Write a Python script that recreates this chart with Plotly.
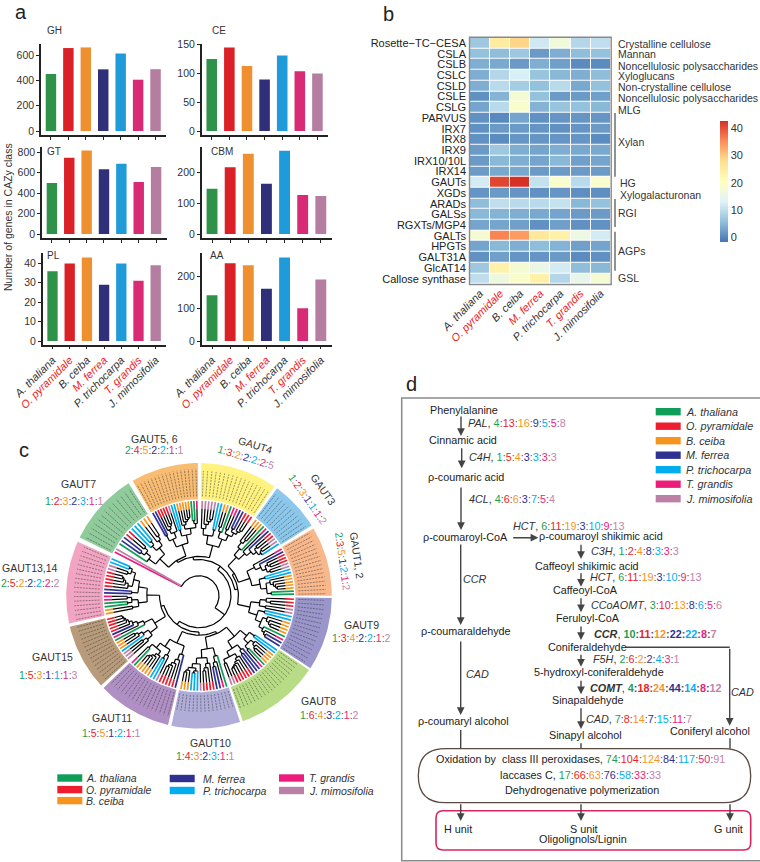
import math
import plotly.graph_objects as go

# ---------- data ----------
species = ["A. thaliana", "O. pyramidale", "B. ceiba", "M. ferrea", "P. trichocarpa", "T. grandis", "J. mimosifolia"]
highlighted = ["O. pyramidale", "M. ferrea", "T. grandis"]
bar_colors = ["#2E9249", "#DA2128", "#EE9030", "#2F3079", "#1F9BD9", "#D82A75", "#B57DA0"]
text_colors = ["#1E9E50", "#ED1C24", "#F7941E", "#2E3192", "#00AEEF", "#EC1C7D", "#BF84AB"]
legend_colors = ["#0F9D58", "#ED1C2E", "#F7941E", "#2E3192", "#00AEEF", "#EC1C7D", "#BC80A6"]

GH = [450, 655, 660, 487, 612, 405, 488]
CE = [124, 144, 112, 89, 130, 103, 99]
GT = [500, 748, 817, 634, 689, 510, 657]
CBM = [148, 218, 262, 164, 272, 127, 124]
PL = [36, 40, 43, 29, 40, 31, 39]
AA = [141, 239, 233, 161, 257, 101, 189]

heat_rows = ["Rosette\u2212TC\u2212CESA", "CSLA", "CSLB", "CSLC", "CSLD", "CSLE", "CSLG", "PARVUS", "IRX7", "IRX8", "IRX9",
             "IRX10/10L", "IRX14", "GAUTs", "XGDs", "ARADs", "GALSs", "RGXTs/MGP4", "GALTs", "HPGTs", "GALT31A",
             "GlcAT14", "Callose synthase"]
heat_values = [
    [7, 25, 29, 11.5, 17, 9, 10],
    [6, 5.5, 7, 2, 4, 5.5, 6],
    [4, 3.5, 2, 4, 2.5, 0.5, 0.5],
    [4, 9, 12.5, 6.5, 5, 4, 5.5],
    [4, 9.5, 7.5, 6, 9.5, 3.5, 6],
    [1, 4.5, 18, 6, 2, 2, 2.5],
    [3, 9.5, 19, 4.5, 6.5, 6, 5],
    [1, 0.3, 3, 1, 1.5, 1.5, 1.5],
    [1, 2, 2, 1.5, 1, 1.5, 2],
    [1, 0.5, 1.5, 1.5, 1.5, 1.5, 0.5],
    [2, 7, 4, 3, 4, 3.5, 3.5],
    [2, 5, 4, 3, 5, 2.5, 3],
    [2, 3.5, 3.5, 2, 2, 2, 2],
    [12, 41, 43, 10.5, 19, 9.5, 19],
    [1.5, 2, 1.5, 1, 1.5, 0.8, 0.8],
    [5.5, 10, 9.5, 9.5, 10.5, 5, 6],
    [5, 4.5, 4, 3.5, 3, 2, 2],
    [3, 3, 2.5, 1, 2.5, 1, 1],
    [18, 36, 34, 26, 24, 16, 12],
    [3, 5, 4, 5.5, 4.5, 2.5, 3],
    [1, 2.5, 1.5, 1.5, 2, 0.5, 1],
    [7, 24, 18, 15.5, 12, 5.5, 5],
    [10, 16.5, 19, 24, 9, 15, 18],
]
heat_scale = ["#4575B4", "#91BFDB", "#E0F3F8", "#FFFFBF", "#FEE090", "#FC8D59", "#D73027"]

gaut_names = ["GAUT7", "GAUT5, 6", "GAUT4", "GAUT3", "GAUT1, 2", "GAUT9", "GAUT8", "GAUT10", "GAUT11", "GAUT15", "GAUT13,14"]
gaut_counts = [
    [1, 2, 3, 2, 3, 1, 1],
    [2, 4, 5, 2, 2, 1, 1],
    [1, 3, 2, 2, 2, 2, 5],
    [1, 2, 3, 1, 1, 1, 2],
    [2, 3, 5, 1, 2, 1, 2],
    [1, 3, 4, 2, 2, 1, 2],
    [1, 6, 4, 3, 2, 1, 2],
    [1, 4, 3, 2, 3, 1, 1],
    [1, 5, 5, 1, 2, 1, 1],
    [1, 5, 3, 1, 1, 1, 3],
    [2, 5, 2, 2, 2, 2, 2],
]

PAL = [4, 13, 16, 9, 5, 5, 8]
C4H = [1, 5, 4, 3, 3, 3, 3]
CL4 = [4, 6, 6, 3, 7, 5, 4]
HCT = [6, 11, 19, 3, 10, 9, 13]
C3H = [1, 2, 4, 8, 3, 3, 3]
CCoAOMT = [3, 10, 13, 8, 6, 5, 6]
CCR = [10, 11, 12, 22, 22, 8, 7]
F5H = [2, 6, 2, 2, 4, 3, 1]
COMT = [4, 18, 24, 44, 14, 8, 12]
CAD = [7, 8, 14, 7, 15, 11, 7]
PRX = [74, 104, 124, 84, 117, 50, 91]
LAC = [17, 66, 63, 76, 58, 33, 33]

# ---------- helpers ----------
W, H = 760, 862
FONT = "Liberation Sans"
INK = "#2b2b2b"
fig = go.Figure()
annotations, shapes = [], []


def text(x, y, s, size=11, anchor="center", angle=0, color=INK):
    annotations.append(dict(x=x, y=y, xref="x", yref="y", text=s, showarrow=False, xanchor=anchor, yanchor="middle",
                            textangle=angle, font=dict(size=size, color=color, family=FONT), borderpad=0, borderwidth=0))


def ratio(vals, bold=False):
    parts = [f'<span style="color:{c}">{v}</span>' for v, c in zip(vals, text_colors)]
    s = '<span style="color:#555">:</span>'.join(parts)
    return f"<b>{s}</b>" if bold else s


def line(x0, y0, x1, y1, color="#444", width=1.4):
    shapes.append(dict(type="line", xref="x", yref="y", x0=x0, y0=y0, x1=x1, y1=y1, line=dict(color=color, width=width)))


def arrow(x0, y0, x1, y1):
    annotations.append(dict(x=x1, y=y1, ax=x0, ay=y0, xref="x", yref="y", axref="x", ayref="y", text="", showarrow=True,
                            arrowhead=2, arrowsize=1.1, arrowwidth=1.4, arrowcolor="#444"))


def rrect(x0, y0, x1, y1, r, color, width):
    path = (f"M{x0+r},{y0} L{x1-r},{y0} Q{x1},{y0} {x1},{y0+r} L{x1},{y1-r} Q{x1},{y1} {x1-r},{y1} "
            f"L{x0+r},{y1} Q{x0},{y1} {x0},{y1-r} L{x0},{y0+r} Q{x0},{y0} {x0+r},{y0} Z")
    shapes.append(dict(type="path", xref="x", yref="y", path=path, line=dict(color=color, width=width)))


def species_label(name):
    if name in highlighted:
        return f'<i><span style="color:#ED1C24">{name}</span></i>'
    return f"<i>{name}</i>"


layout_axes = {}
layout_axes["xaxis"] = dict(domain=[0, 1], range=[0, W], visible=False, fixedrange=True, automargin=False)
layout_axes["yaxis"] = dict(domain=[0, 1], range=[H, 0], visible=False, fixedrange=True, automargin=False)

# ---------- panel a ----------
panels = [
    ("GH", GH, 41, 166, 44, 135, [-31.6, 687], [0, 200, 400, 600], False, 54, 30),
    ("CE", CE, 201.7, 328, 44, 135, [-6.9, 150], [0, 50, 100, 150], False, 219, 30),
    ("GT", GT, 42, 166.5, 146.7, 238.3, [-42, 855], [0, 200, 400, 600, 800], False, 54, 151),
    ("CBM", CBM, 201.7, 331.7, 146.7, 238.3, [-14, 285], [0, 100, 200], False, 222, 151),
    ("PL", PL, 42.7, 166, 253.3, 344.7, [-1.9, 45.2], [0, 10, 20, 30, 40], True, 53, 255),
    ("AA", AA, 201.7, 331.7, 253.3, 344.7, [-11.4, 270], [0, 100, 200], True, 217, 255),
]
axis_n = 2
for name, vals, left, right, top, bottom, yr, yt, labelled, tx, ty in panels:
    xa, ya = f"xaxis{axis_n}", f"yaxis{axis_n}"
    layout_axes[xa] = dict(domain=[left / W, right / W], range=[-0.57, 6.6], anchor=f"y{axis_n}", tickmode="array",
                           tickvals=list(range(7)), ticktext=[species_label(s) for s in species], showticklabels=labelled,
                           tickangle=-45, ticks="outside", ticklen=3, tickwidth=1, tickcolor="#222", showline=True,
                           linecolor="#222", linewidth=1.5, showgrid=False, zeroline=False, fixedrange=True, automargin=False,
                           tickfont=dict(size=11, color="#333", family=FONT))
    layout_axes[ya] = dict(domain=[1 - bottom / H, 1 - top / H], range=yr, anchor=f"x{axis_n}", tickmode="array", tickvals=yt,
                           ticks="outside", ticklen=3, tickwidth=1, tickcolor="#222", showline=True, linecolor="#222",
                           linewidth=1.5, showgrid=False, zeroline=False, fixedrange=True, automargin=False,
                           tickfont=dict(size=10.5, color="#333", family=FONT))
    fig.add_trace(go.Bar(x=list(range(7)), y=vals, marker=dict(color=bar_colors, line_width=0), width=0.6,
                         xaxis=f"x{axis_n}", yaxis=f"y{axis_n}", showlegend=False))
    text(tx, ty, name, size=10, anchor="center", color="#333")
    axis_n += 1
text(8, 217, "Number of genes in CAZy class", size=10.5, angle=-90, color="#333")
text(21, 12, "a", size=20, color="#222")
text(388, 14, "b", size=20, color="#222")
text(24, 450, "c", size=20, color="#222")
text(411, 384, "d", size=20, color="#222")

# ---------- panel b ----------
xa, ya = f"xaxis{axis_n}", f"yaxis{axis_n}"
hleft, hright, htop, hbottom = 470, 610.7, 37.7, 284
layout_axes[xa] = dict(domain=[hleft / W, hright / W], range=[-0.5, 6.5], anchor=f"y{axis_n}", tickmode="array",
                       tickvals=list(range(7)), ticktext=[species_label(s) for s in species], tickangle=-45, ticks="",
                       showgrid=False, zeroline=False, showline=False, fixedrange=True, automargin=False,
                       tickfont=dict(size=11, color="#333", family=FONT))
layout_axes[ya] = dict(domain=[1 - hbottom / H, 1 - htop / H], range=[22.5, -0.5], anchor=f"x{axis_n}", tickmode="array",
                       tickvals=list(range(23)), ticktext=heat_rows, ticks="", showgrid=False, zeroline=False, showline=False,
                       fixedrange=True, automargin=False, ticklabelstandoff=3, tickfont=dict(size=11, color="#222", family=FONT))
fig.add_trace(go.Heatmap(z=heat_values, x=list(range(7)), y=list(range(23)), zmin=-1.7, zmax=42.8, xgap=1, ygap=1,
                         colorscale=[[i / 6, c] for i, c in enumerate(heat_scale)], xaxis=f"x{axis_n}", yaxis=f"y{axis_n}",
                         colorbar=dict(x=720 / W, xanchor="left", xpad=0, ypad=0, y=1 - 181.2 / H, yanchor="middle",
                                       lenmode="pixels", len=121, thicknessmode="pixels", thickness=8, outlinewidth=0,
                                       tickvals=[0, 10, 20, 30, 40], ticks="", tickfont=dict(size=11, color="#333", family=FONT))))
shapes.append(dict(type="rect", xref="x", yref="y", x0=hleft - 0.5, y0=htop - 0.5, x1=hright + 0.5, y1=hbottom + 0.5,
                   line=dict(color="#8a8a8a", width=1.4)))
for y, s, x in [(44, "Crystalline cellulose", 618), (54, "Mannan", 618), (66, "Noncellulosic polysaccharides", 618),
                (76, "Xyloglucans", 618), (87, "Non-crystalline cellulose", 618), (98, "Noncellulosic polysaccharides", 618),
                (110, "MLG", 618), (142, "Xylan", 618), (182.7, "HG", 620), (194.5, "Xylogalacturonan", 619.5),
                (213, "RGI", 618), (251, "AGPs", 618), (278, "GSL", 618)]:
    text(x, y, s, size=10.5, anchor="left", color="#333")
for y0, y1 in [(113, 176.7), (199, 227), (231.7, 270.7)]:
    line(615, y0, 615, y1, color="#777", width=1.6)

# ---------- panel c ----------
CX, CY = 199, 595.8
sector_angles = [(296, 328), (330, 359.5), (361, 394.6), (396, 418), (419.5, 450), (451, 483), (484, 520.7),
                 (522, 552), (553.5, 586), (587.5, 616.5), (618, 654)]
sector_colors = ["#8FCB9B", "#F8BC72", "#FFF27F", "#8CC8EB", "#F9B88C", "#9A96CB", "#B7DC85", "#B0ADD8", "#B08FC4",
                 "#B79B7B", "#F2A5C2"]
text_reach = [127, 127, 125, 127, 127, 125, 120, 116, 124, 126, 125]
R_BAND0, R_BAND1, R_TIP, R_NODE = 96.5, 132.8, 95, 82
LONG_BRANCH = (0, 3, 4)
TIP_LEN = 8


def polar(r, a):
    t = math.radians(a)
    return CX + r * math.sin(t), CY - r * math.cos(t)


for (a0, a1), col in zip(sector_angles, sector_colors):
    n = int(a1 - a0) + 2
    ang = [a0 + (a1 - a0) * i / (n - 1) for i in range(n)]
    pts = [polar(R_BAND1, a) for a in ang] + [polar(R_BAND0, a) for a in reversed(ang)]
    fig.add_trace(go.Scatter(x=[p[0] for p in pts] + [pts[0][0]], y=[p[1] for p in pts] + [pts[0][1]], fill="toself",
                             fillcolor=col, mode="lines", line=dict(width=0), showlegend=False, hoverinfo="skip"))

black_x, black_y = [], []
leaf_x = [[] for _ in species]
leaf_y = [[] for _ in species]
micro_x, micro_y = [], []


def add(xs, ys, r0, a0, r1, a1):
    if a0 == a1:
        p, q = polar(r0, a0), polar(r1, a1)
        xs += [p[0], q[0], None]
        ys += [p[1], q[1], None]
    else:
        n = max(2, int(abs(a1 - a0) / 3) + 2)
        for i in range(n):
            p = polar(r0, a0 + (a1 - a0) * i / (n - 1))
            xs.append(p[0])
            ys.append(p[1])
        xs.append(None)
        ys.append(None)


def subtree(items, r_parent, r_limit):
    """items: (species index, angle) leaves; draws the clade and returns its stem angle."""
    if len(items) == 1:
        sp, a = items[0]
        r_col = r_parent if sp in LONG_BRANCH else max(r_parent, R_TIP - TIP_LEN)
        if r_col > r_parent:
            add(black_x, black_y, r_parent, a, r_col, a)
        add(leaf_x[sp], leaf_y[sp], r_col, a, R_TIP, a)
        return a
    r = r_parent + (r_limit - r_parent) * 0.3
    k = 1
    for i in range(1, len(items)):
        if items[i][0] != items[0][0]:
            k = i
            break
    # balance the split at a species boundary where the clade is large
    if len(items) >= 9:
        bounds = [i for i in range(1, len(items)) if items[i][0] != items[i - 1][0]]
        if bounds:
            k = min(bounds, key=lambda b: abs(b - len(items) * 0.4))
    a0 = subtree(items[:k], r, r_limit)
    a1 = subtree(items[k:], r, r_limit)
    add(black_x, black_y, r, a0, r, a1)
    mid = (a0 + a1) / 2
    add(black_x, black_y, r_parent, mid, r, mid)
    return mid


def backbone(groups, r_parent):
    if len(groups) == 1:
        return subtree(groups[0], r_parent, R_NODE)
    r = r_parent + (48 - r_parent) * 0.27
    k = (len(groups) + 1) // 2
    a0 = backbone(groups[:k], r)
    a1 = backbone(groups[k:], r)
    add(black_x, black_y, r, a0, r, a1)
    mid = (a0 + a1) / 2
    add(black_x, black_y, r_parent, mid, r, mid)
    return mid


clade_leaves = []
for idx, ((a0, a1), counts) in enumerate(zip(sector_angles, gaut_counts)):
    order = [(idx * 3 + j * 5) % 7 for j in range(7)]
    seq = [sp for sp in order for _ in range(counts[sp])]
    n = len(seq)
    step = (a1 - a0) / n
    clade_leaves.append([(sp, a0 + step * (i + 0.5)) for i, sp in enumerate(seq)])
    for i in range(n):
        a = a0 + step * (i + 0.5)
        add(micro_x, micro_y, R_BAND0 + 3, a, text_reach[idx], a)

# the T. grandis and J. mimosifolia tips beside GAUT7 branch directly from the root
first = clade_leaves[0]
rest_first = [lf for lf in first if lf[0] not in (5, 6)]
outgroup = [(5, sector_angles[0][0] + 1.5), (6, sector_angles[0][0] + 3.5)]
span_a0 = sector_angles[0][0] + 6
rest_first = [(lf[0], span_a0 + (sector_angles[0][1] - span_a0) * (i + 0.5) / len(rest_first)) for i, lf in enumerate(rest_first)]
groups = [rest_first] + clade_leaves[1:]
R_ROOT = 20
a_main = backbone(groups, R_ROOT + 6)
for sp, a in outgroup:
    add(leaf_x[sp], leaf_y[sp], R_ROOT, a, R_TIP, a)
add(black_x, black_y, R_ROOT, outgroup[0][1], R_ROOT, a_main)
add(black_x, black_y, R_ROOT, a_main, R_ROOT + 6, a_main)

fig.add_trace(go.Scatter(x=micro_x, y=micro_y, mode="lines", line=dict(color="#333", width=0.7, dash="2px,1px"), opacity=0.7,
                         showlegend=False, hoverinfo="skip"))
for sp in range(7):
    fig.add_trace(go.Scatter(x=leaf_x[sp], y=leaf_y[sp], mode="lines", line=dict(color=legend_colors[sp], width=1.7),
                             showlegend=False, hoverinfo="skip"))
fig.add_trace(go.Scatter(x=black_x, y=black_y, mode="lines", line=dict(color="#000", width=1.2), showlegend=False, hoverinfo="skip"))

gaut_text = [(78, 484, 74, 500.7, 0), (154.5, 438.5, 154, 450, 0), (255.7, 444.5, 246, 456.7, 17), (323, 489, 308, 499, 55),
             (357, 555, 343, 561, 82), (361, 625, 361, 638, 0), (318, 700.7, 329, 715, 0), (210, 743, 205.7, 755.7, 0),
             (112, 718, 111, 732.7, 0), (52, 657, 48, 675, 0), (30, 567.7, 30, 583, 0)]
for name, counts, (x0, y0, x1, y1, ang) in zip(gaut_names, gaut_counts, gaut_text):
    text(x0, y0, name, size=10.5, angle=ang, color="#333")
    text(x1, y1, ratio(counts), size=10.5, angle=ang)

legend_c = [(57.3, 139), (57.3, 150.6), (57.3, 161.6), (169.7, 139.5), (169.7, 151.5), (279, 139), (279, 151.5)]
legend_c_text = [86, 86, 86, 203, 203, 308.7, 308.7]
for i, ((lx, ly), tx) in enumerate(zip(legend_c, legend_c_text)):
    yy = 640 + ly - 1
    shapes.append(dict(type="rect", xref="x", yref="y", x0=lx, x1=lx + 25, y0=yy - 3.7, y1=yy + 3.7,
                       fillcolor=legend_colors[i], line_width=0))
    text(tx, yy, f"<i>{species[i]}</i>", size=10.5, anchor="left", color="#333")

# ---------- panel d ----------
shapes.append(dict(type="rect", xref="x", yref="y", x0=401.7, y0=398, x1=765, y1=860.7, line=dict(color="#8a8a8a", width=1.5)))
for s, x, y in [("Phenylalanine", 464.3, 409.7), ("Cinnamic acid", 463, 440.3), ("\u03c1-coumaric acid", 465.7, 477.3),
                ("\u03c1-coumaroyl-CoA", 465.3, 537.3), ("\u03c1-coumaroyl shikimic acid", 601.3, 536.3),
                ("Caffeoyl shikimic acid", 586.7, 565.7), ("Caffeoyl-CoA", 585.3, 590), ("Feruloyl-CoA", 587.7, 617.7),
                ("Coniferaldehyde", 587, 646.7), ("5-hydroxyl-coniferaldehyde", 599.3, 672.3), ("Sinapaldehyde", 587.3, 700.3),
                ("Sinapyl alcohol", 585.3, 735.3), ("\u03c1-coumaraldehyde", 465.7, 631), ("\u03c1-coumaryl alcohol", 463, 720.7),
                ("Coniferyl alcohol", 710, 731), ("H unit", 458.3, 829.3), ("S unit", 583.7, 829.3), ("G unit", 728, 829.3),
                ("Oligolignols/Lignin", 583.3, 839.3), ("Dehydrogenative polymerization", 581.7, 790)]:
    text(x, y, s, size=10.8, color="#222")

for label, vals, x, y, bold in [("PAL", PAL, 468.3, 422.7, False), ("C4H", C4H, 468.7, 457, False), ("4CL", CL4, 468.7, 499, False),
                                ("HCT", HCT, 512.7, 526, False), ("C3H", C3H, 590.7, 550.7, False), ("HCT", HCT, 589.7, 577, False),
                                ("CCoAOMT", CCoAOMT, 591, 605.3, False), ("CCR", CCR, 594, 634.3, True),
                                ("F5H", F5H, 592.7, 659, False), ("COMT", COMT, 590, 688.3, True), ("CAD", CAD, 585.7, 718.7, False)]:
    head = f"<b><i>{label}</i></b>" if bold else f"<i>{label}</i>"
    text(x, y, f"{head}, {ratio(vals, bold)}", size=10.8, anchor="left", color="#333")
text(462.7, 579, "<i>CCR</i>", size=10.8, anchor="left", color="#333")
text(465.7, 673.7, "<i>CAD</i>", size=10.8, anchor="left", color="#333")
text(731, 692, "<i>CAD</i>", size=10.8, anchor="left", color="#333")
text(580, 759.3, f"Oxidation by  class III peroxidases, {ratio(PRX)}", size=10.8, color="#222")
text(580, 775.3, f"laccases C, {ratio(LAC)}", size=10.8, color="#222")

for seg in [(461, 415, 461, 436), (461.7, 446.7, 461.7, 468.3), (461, 486, 461, 530), (511.7, 537.7, 538.3, 537.7),
            (581, 543.3, 581, 559), (581, 571.7, 581, 586.7), (581, 596.7, 581, 612.3), (581, 625, 581, 640),
            (581, 653.3, 581, 666.7), (581, 679.3, 581, 694.3), (581, 706.7, 581, 729), (460.7, 543, 460.7, 625),
            (460.7, 640, 460.7, 715), (729.7, 647.3, 729.7, 725.7), (460.7, 802.7, 460.7, 821), (581, 802.7, 581, 821),
            (730, 802.7, 730, 821)]:
    arrow(*seg)
line(625.7, 647.3, 729.7, 647.3)
line(581, 743.3, 581, 748.7)
line(460.7, 730, 460.7, 748.7)
line(730, 738.3, 730, 748.7)
rrect(418.3, 748.7, 750.7, 802.7, 27, "#5a4a42", 1.3)
rrect(436, 810.7, 750.7, 850, 7, "#D9255F", 1.6)

for i, s in enumerate(species):
    yy = 411.7 + i * 14.5
    shapes.append(dict(type="rect", xref="x", yref="y", x0=655.7, x1=680.7, y0=yy - 3.7, y1=yy + 3.7,
                       fillcolor=legend_colors[i], line_width=0))
    text(685.7, yy, f"<i>{s}</i>", size=10.8, anchor="left", color="#333")

fig.update_layout(width=W, height=H, margin=dict(l=0, r=0, t=0, b=0, pad=0), autosize=False, paper_bgcolor="white",
                  plot_bgcolor="white", font=dict(family=FONT, color=INK), showlegend=False, bargap=0.4,
                  annotations=annotations, shapes=shapes, hovermode=False, **layout_axes)
fig.write_html("out.html", config=dict(displayModeBar=False), post_script="document.body.style.margin='0';")
